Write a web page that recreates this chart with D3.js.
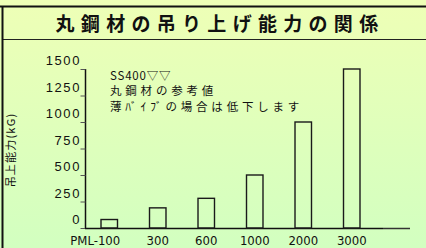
<!DOCTYPE html>
<html><head><meta charset="utf-8">
<script src="https://cdn.jsdelivr.net/npm/d3@7"></script>
<style>
html,body{margin:0;padding:0;background:#d8ffc0;}
svg{display:block;}
</style></head>
<body>
<script>
const categories = ["PML-100","300","600","1000","2000","3000"];
const values = [80,190,280,500,1000,1500];
const yTicks = [0,250,500,750,1000,1250,1500];
const title = "丸鋼材の吊り上げ能力の関係";
const yLabel = "吊上能力(kG)";
const notes = ["SS400▽▽","丸鋼材の参考値","薄ﾊﾞｲﾌﾞの場合は低下します"];

const W = 426, H = 248;
const svg = d3.select("body").append("svg").attr("width", W).attr("height", H);
const defs = svg.append("defs");
const grad = defs.append("linearGradient").attr("id","bg").attr("x1",0).attr("y1",0).attr("x2",0).attr("y2",1);
grad.append("stop").attr("offset","0%").attr("stop-color","#eeffb6");
grad.append("stop").attr("offset","100%").attr("stop-color","#d2ffc0");
svg.append("rect").attr("width",W).attr("height",H).attr("fill","url(#bg)");

// frame
svg.append("line").attr("x1",0).attr("x2",W).attr("y1",6.5).attr("y2",6.5).attr("stroke","#111").attr("stroke-width",2);
svg.append("line").attr("x1",3).attr("x2",W).attr("y1",39.5).attr("y2",39.5).attr("stroke","#222").attr("stroke-width",1);
svg.append("line").attr("x1",2.5).attr("x2",2.5).attr("y1",6).attr("y2",H).attr("stroke","#111").attr("stroke-width",2);

// title
svg.append("text").attr("x",220).attr("y",30.5).attr("text-anchor","middle")
  .attr("font-family","'Noto Sans CJK JP'").attr("font-weight","bold").attr("font-size",19)
  .attr("letter-spacing",6.3).attr("fill","#111").text(title);

const x = d3.scaleBand().domain(categories).range([85,376]).padding(0);
const y = d3.scaleLinear().domain([0,1500]).range([228,69]);

// y axis
const yAxis = d3.axisLeft(y).tickValues(yTicks).tickSize(5).tickFormat("");
const ya = svg.append("g").attr("transform","translate(85.5,0)").call(yAxis);
ya.select(".domain").attr("stroke","#111").attr("stroke-width",1.5).attr("d","M0,228V69");
ya.selectAll(".tick line").attr("stroke","#555").attr("stroke-width",1);
svg.append("g").selectAll("text").data(yTicks).join("text")
  .attr("x",81).attr("y",d=>y(d)-4).attr("text-anchor","end")
  .attr("font-family","'Liberation Sans', Arial, sans-serif").attr("font-size",13)
  .attr("letter-spacing",1.6).attr("fill","#111").text(d=>d);

// y label
svg.append("text").attr("transform","translate(15,150) rotate(-90)").attr("text-anchor","middle")
  .attr("font-family","'Noto Sans CJK JP'").attr("font-size",11).attr("letter-spacing",1.2)
  .attr("fill","#111").text(yLabel);

// x axis
svg.append("line").attr("x1",85).attr("x2",383).attr("y1",228.5).attr("y2",228.5).attr("stroke","#111").attr("stroke-width",1.5);
svg.append("line").attr("x1",383).attr("x2",410).attr("y1",228.5).attr("y2",228.5).attr("stroke","#333").attr("stroke-width",1.5);

const xAxis = d3.axisBottom(x).tickSize(0).tickPadding(0);
const xa = svg.append("g").attr("transform","translate(0,228)").call(xAxis);
xa.select(".domain").remove();
xa.selectAll(".tick text").attr("font-family","'Liberation Sans Narrow','DejaVu Sans Condensed',sans-serif")
  .attr("font-size",13).attr("fill","#111").attr("y",16.5).attr("dy",0)
  .attr("dx",(d,i)=> i===0 ? -14 : 0);

// bars
const bw = x.bandwidth()*0.34;
svg.append("g").selectAll("rect").data(values).join("rect")
  .attr("x",(d,i)=>x(categories[i])+x.bandwidth()/2-bw/2)
  .attr("y",d=>y(d))
  .attr("width",bw).attr("height",d=>y(0)-y(d))
  .attr("fill","none").attr("stroke","#1a1a1a").attr("stroke-width",1.4);

// notes
svg.append("g").selectAll("text").data(notes).join("text")
  .attr("x",110).attr("y",(d,i)=>79.5+i*15.5)
  .attr("font-family","'Noto Sans CJK JP'").attr("font-size",11.5)
  .attr("letter-spacing",(d,i)=> i===0 ? 0.8 : 3.8).attr("fill","#111").text(d=>d);
</script>
</body></html>
